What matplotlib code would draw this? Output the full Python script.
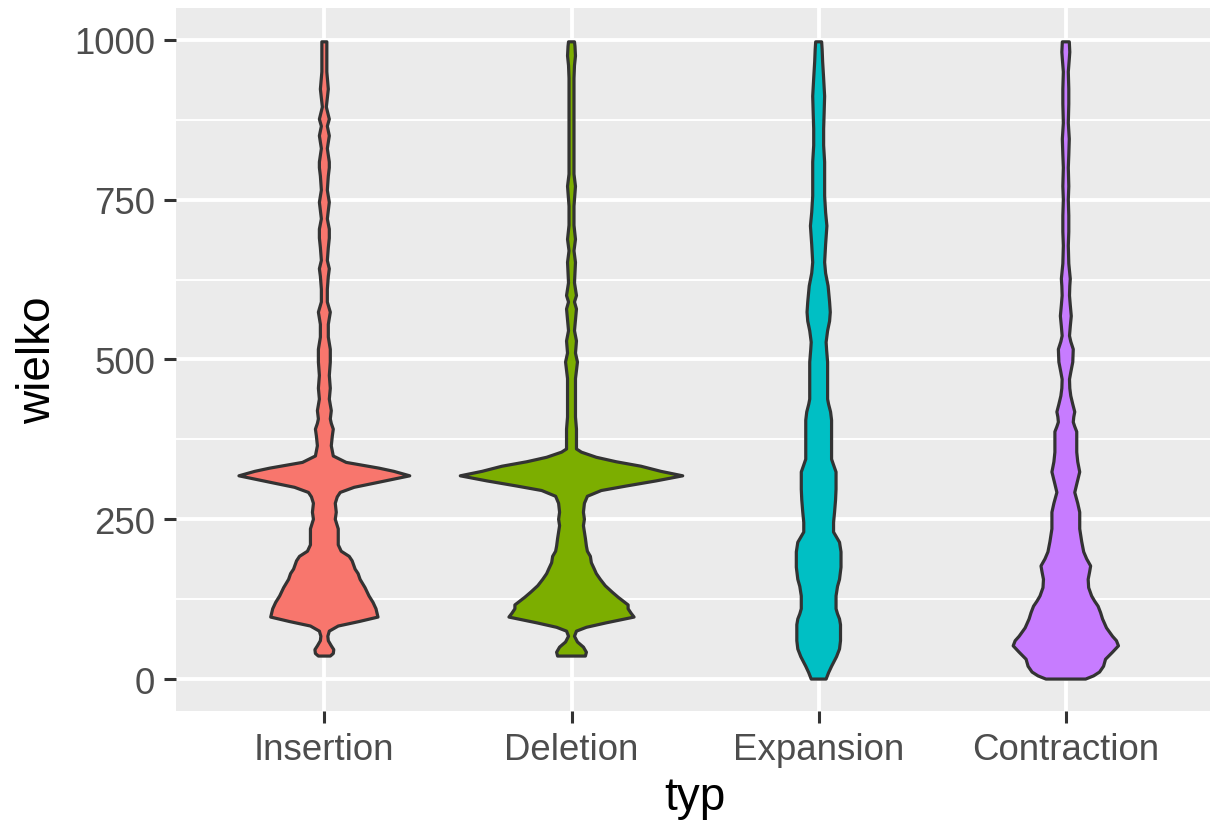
import numpy as np
import matplotlib
matplotlib.use("Agg")
import matplotlib.pyplot as plt
from matplotlib.ticker import MultipleLocator

plt.rcParams['font.family'] = ['Liberation Sans', 'DejaVu Sans']

categories = ["Insertion", "Deletion", "Expansion", "Contraction"]
colors = ["#F8766D", "#7CAE00", "#00BFC4", "#C77CFF"]

# violin profiles: size value -> relative density (half width)
ins_y = [36, 40, 46, 52, 60, 67, 75, 83, 90, 97, 110, 120, 130, 143, 156, 165, 172, 185,
         192, 200, 210, 235, 250, 261, 275, 285, 292, 300, 308, 318, 325, 330, 339, 349,
         365, 380, 391, 400, 407, 420, 438, 455, 475, 496, 516, 535, 555, 574, 590, 610,
         630, 642, 655, 675, 690, 704, 720, 746, 765, 787, 800, 809, 830, 850, 865, 876,
         895, 923, 950, 975, 997]
ins_d = [6, 9, 9.5, 7, 4, 3.5, 5, 14, 35, 54, 52, 49, 45, 41, 36, 34, 31, 28,
         25, 17, 14, 14, 11, 12, 11, 13, 16, 30, 55, 86, 70, 55, 22, 9,
         7, 8, 9, 7, 6, 7, 5, 6, 5, 6, 6, 4, 4, 6, 3, 3,
         4, 5, 3, 4, 5, 5, 3, 5, 3, 4, 5, 5, 3, 5, 3, 5,
         2, 4, 2.5, 2.5, 2.5]

del_y = [36, 42, 50, 58, 67, 75, 81, 88, 97, 103, 110, 116, 122, 128, 136, 146, 156, 165,
         172, 182, 192, 200, 208, 220, 230, 240, 250, 261, 275, 286, 295, 302, 310, 318,
         325, 333, 340, 347, 355, 360, 380, 391, 410, 443, 470, 496, 510, 529, 545, 562,
         579, 590, 600, 620, 652, 670, 688, 710, 740, 771, 790, 830, 860, 900, 940, 960,
         975, 990, 997]
del_d = [14, 15, 12, 6, 3, 5, 15, 35, 63, 60, 57, 57, 52, 47, 41, 34, 29, 25,
         23, 20, 19, 16, 15, 14, 13, 12, 13, 12, 13, 16, 30, 55, 85, 112,
         90, 70, 45, 25, 10, 5, 5, 5, 4, 4, 4, 6, 4, 5, 3, 4,
         5, 3, 5, 3, 4, 2.5, 4, 2.5, 2.5, 4, 2.5, 2.5, 2.5, 2.5, 2.5, 3,
         4, 3.5, 3]

exp_y = [0, 10, 20, 35, 47, 60, 73, 85, 94, 102, 110, 130, 145, 156, 175, 199, 214, 222,
         230, 245, 261, 280, 297, 324, 335, 344, 370, 391, 405, 418, 430, 438, 469, 496,
         515, 527, 545, 560, 574, 590, 615, 635, 652, 680, 709, 730, 756, 780, 809, 835,
         861, 885, 912, 940, 966, 985, 997]
exp_d = [7.5, 10, 13, 18, 21, 22, 22, 22, 21, 19, 17.5, 17.5, 19, 21, 22.5, 22.5, 21, 18,
         15, 15, 16, 17, 17.5, 17.5, 15, 13, 13, 13, 13, 12, 10, 9, 9, 9,
         8, 7.5, 9, 11, 11.7, 11, 9.5, 7, 6, 7, 8.3, 7, 6, 6, 6, 5,
         5, 5.5, 6, 5, 4, 3.5, 3]

con_y = [0, 5, 11, 20, 31, 42, 52, 60, 67, 80, 94, 104, 114, 122, 130, 143, 156, 168,
         177, 188, 199, 215, 235, 250, 261, 275, 292, 305, 324, 340, 355, 370, 387, 395,
         402, 410, 418, 430, 443, 455, 469, 480, 496, 516, 528, 537, 552, 568, 585, 600,
         615, 626, 650, 678, 700, 725, 750, 771, 800, 820, 845, 870, 900, 923, 950, 970,
         981, 997]
con_d = [20, 28, 34, 38, 40, 47, 53, 51, 47, 41, 37, 35, 32.5, 29, 26, 23, 22.5, 24,
         25, 21, 18, 16, 14, 14, 14, 12, 9, 11, 14, 12, 11, 11, 11, 9,
         7.5, 8, 9, 7, 5, 4, 3.7, 5, 7, 7.5, 5, 3.7, 4.5, 5.5, 4.5, 3.7,
         4, 4.5, 3, 2.5, 3, 3, 2.5, 3, 2.5, 3, 3.5, 2.5, 3, 3, 2.5, 3.5,
         4, 3.5]

profiles = [(ins_y, ins_d), (del_y, del_d), (exp_y, exp_d), (con_y, con_d)]

fig = plt.figure(figsize=(12.1, 8.29), dpi=100)
# panel runs slightly past the right edge of the image, as in the reference
ax = fig.add_axes([0.1455, 0.1411, 0.8579, 0.8481])
ax.set_facecolor("#EBEBEB")

# ggplot scale="area": widest density -> half of width 0.9
dmax = max(max(d) for _, d in profiles)
for i, ((y, d), col) in enumerate(zip(profiles, colors)):
    y = np.asarray(y, float)
    w = np.asarray(d, float) / dmax * 0.45
    xs = np.concatenate([i - w, (i + w)[::-1]])
    ys = np.concatenate([y, y[::-1]])
    ax.fill(xs, ys, facecolor=col, edgecolor="#333333", linewidth=2.3,
            joinstyle="round", zorder=3)

ax.set_xlim(-0.6, 3.6)
ax.set_ylim(-50, 1050)
ax.set_xticks(range(len(categories)))
ax.set_xticklabels(categories)
ax.yaxis.set_major_locator(MultipleLocator(250))
ax.yaxis.set_minor_locator(MultipleLocator(125))

ax.grid(which="major", color="white", linewidth=2.8, zorder=0)
ax.grid(which="minor", axis="y", color="white", linewidth=1.4, zorder=0)
ax.set_axisbelow(True)
for s in ax.spines.values():
    s.set_visible(False)

ax.tick_params(axis="both", which="major", length=8.6, width=2.2, color="#333333",
               labelsize=26.4, labelcolor="#4D4D4D", pad=6.5)
ax.tick_params(axis="y", which="minor", length=0)

ax.set_xlabel("typ", fontsize=33, labelpad=6)
ax.set_ylabel("wielko", fontsize=33, labelpad=10)

fig.savefig("out.png", dpi=100)
